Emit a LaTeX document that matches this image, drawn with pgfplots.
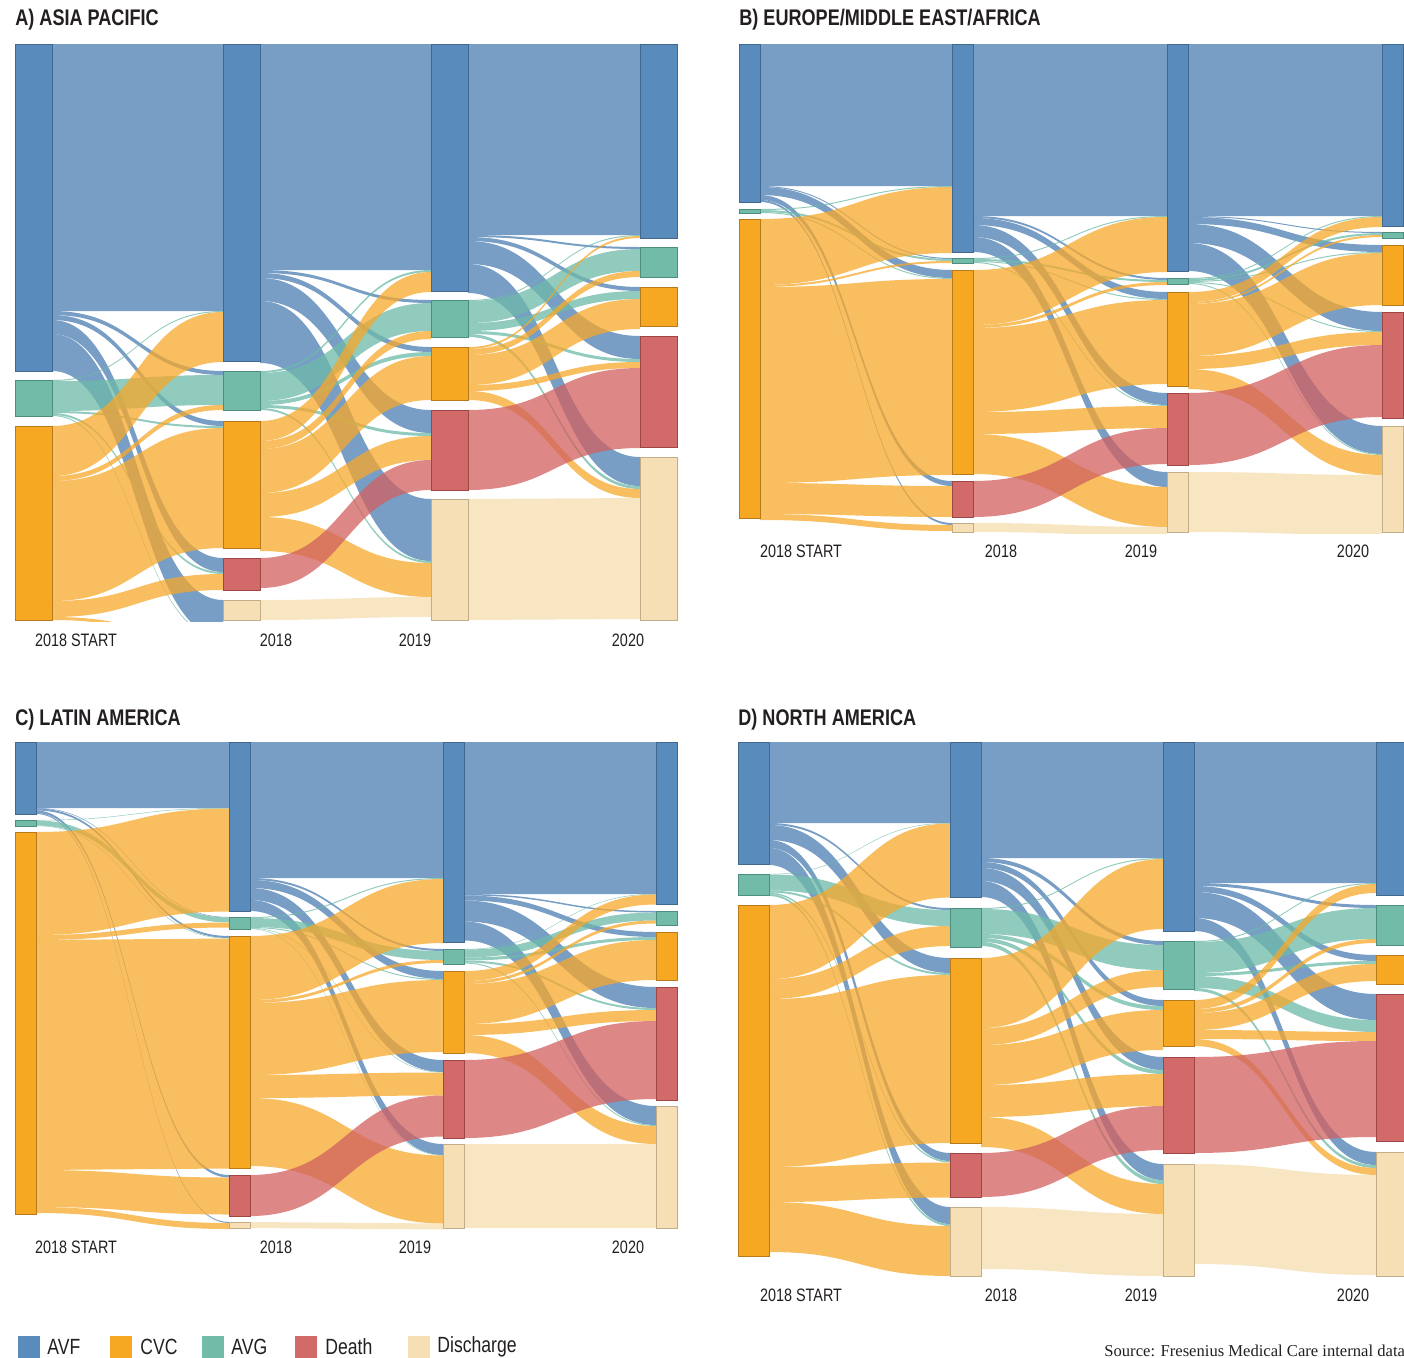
\documentclass[border=0pt]{standalone}
\usepackage{fontspec}
\setmainfont{Liberation Sans}
\newfontfamily\cond{Liberation Sans}[FakeStretch=0.8]
\newfontfamily\srcfont{Liberation Serif}
\usepackage{pgfplots}
\pgfplotsset{compat=1.18}

% node, border and flow colours
\definecolor{avfN}{HTML}{5A8BBD}\definecolor{avfD}{HTML}{41698F}\definecolor{avfF}{HTML}{5A89BA}
\definecolor{cvcN}{HTML}{F7A823}\definecolor{cvcD}{HTML}{B77B1C}\definecolor{cvcF}{HTML}{F7A82B}
\definecolor{avgN}{HTML}{72BBA9}\definecolor{avgD}{HTML}{4E8E7F}\definecolor{avgF}{HTML}{6CB9A7}
\definecolor{deaN}{HTML}{D26A69}\definecolor{deaD}{HTML}{9E4646}\definecolor{deaF}{HTML}{D1605F}
\definecolor{disN}{HTML}{F6DEB5}\definecolor{disD}{HTML}{C2AD8A}\definecolor{disF}{HTML}{F5DCAE}
\definecolor{ink}{HTML}{231F20}
% flow opacity per source
\def\opavf{0.82}\def\opcvc{0.75}\def\opavg{0.75}\def\opdea{0.75}\def\opdis{0.75}

% one axis per panel, 1 px of the reference = 0.5pt
\pgfplotsset{panel/.style n args={4}{hide axis, clip=true, x=0.5pt, y=0.5pt, y dir=reverse,
  xmin=#1, xmax=#2, ymin=#3, ymax=#4, anchor=north west, at={({#1*0.5pt},{-#3*0.5pt})}}}

% column left edges and node width
\newcommand\setcols[5]{%
  \expandafter\gdef\csname cx0\endcsname{#1}\expandafter\gdef\csname cx1\endcsname{#2}%
  \expandafter\gdef\csname cx2\endcsname{#3}\expandafter\gdef\csname cx3\endcsname{#4}%
  \gdef\nw{#5}\gdef\nodelist{}}

% \setnode{col}{name}{top}{height}
\newcommand\setnode[4]{%
  \pgfmathsetmacro\nbot{#3+#4}%
  \pgfmathsetmacro\nxa{\csname cx#1\endcsname}%
  \pgfmathsetmacro\nxb{\nxa+\nw}%
  \expandafter\xdef\csname no#1#2\endcsname{#3}%
  \expandafter\xdef\csname ni#1#2\endcsname{#3}%
  \xdef\nodelist{\unexpanded\expandafter{\nodelist}\noexpand\addplot[draw=#2D, fill=#2N, line width=0.5pt]
    coordinates {(\nxa,#3) (\nxb,#3) (\nxb,\nbot) (\nxa,\nbot)} -- cycle;}}

% \flow{col}{source}{target}{value}
\newcommand\flow[4]{%
  \ifdim#4pt>0pt
  \edef\tc{\the\numexpr#1+1\relax}%
  \pgfmathsetmacro\fxa{\csname cx#1\endcsname+\nw}%
  \pgfmathsetmacro\fxb{\csname cx\tc\endcsname}%
  \pgfmathsetmacro\fxm{(\fxa+\fxb)/2}%
  \edef\fsa{\csname no#1#2\endcsname}%
  \pgfmathsetmacro\fsb{\fsa+#4}%
  \expandafter\xdef\csname no#1#2\endcsname{\fsb}%
  \edef\fta{\csname ni\tc#3\endcsname}%
  \pgfmathsetmacro\ftb{\fta+#4}%
  \expandafter\xdef\csname ni\tc#3\endcsname{\ftb}%
  \edef\tmp{\noexpand\fill[#2F, fill opacity=\csname op#2\endcsname] (axis cs:\fxa,\fsa) .. controls (axis cs:\fxm,\fsa) and (axis cs:\fxm,\fta) .. (axis cs:\fxb,\fta)
    -- (axis cs:\fxb,\ftb) .. controls (axis cs:\fxm,\ftb) and (axis cs:\fxm,\fsb) .. (axis cs:\fxa,\fsb) -- cycle;}%
  \tmp
  \fi}

% \flowrow{col}{source}{to AVF}{to AVG}{to CVC}{to Death}{to Discharge}
\newcommand\flowrow[7]{\flow{#1}{#2}{avf}{#3}\flow{#1}{#2}{avg}{#4}\flow{#1}{#2}{cvc}{#5}%
  \flow{#1}{#2}{dea}{#6}\flow{#1}{#2}{dis}{#7}}

\begin{document}
\begin{tikzpicture}
\path[use as bounding box] (0,0) rectangle (702pt,-679pt);

% ---------------- A) Asia Pacific
\begin{axis}[panel={14}{678}{43}{621}]
\setcols{15}{223}{431}{640}{37}
\setnode{0}{avf}{44}{327}\setnode{0}{avg}{380}{36}\setnode{0}{cvc}{426}{194}
\setnode{1}{avf}{44}{317}\setnode{1}{avg}{371}{39}\setnode{1}{cvc}{421}{127}\setnode{1}{dea}{558}{32}\setnode{1}{dis}{600}{20}
\setnode{2}{avf}{44}{247}\setnode{2}{avg}{300}{37}\setnode{2}{cvc}{347}{53}\setnode{2}{dea}{410}{80}\setnode{2}{dis}{499}{121}
\setnode{3}{avf}{44}{194}\setnode{3}{avg}{247}{30}\setnode{3}{cvc}{287}{39}\setnode{3}{dea}{336}{111}\setnode{3}{dis}{457}{163}
\flowrow{0}{avf}{267}{4}{5}{14}{37}
\flowrow{0}{avg}{1}{30}{2}{2}{1}
\flowrow{0}{cvc}{50}{5}{120}{16}{3}
\flowrow{1}{avf}{226}{3}{5}{23}{62}
\flowrow{1}{avg}{2}{28}{4}{3}{2}
\flowrow{1}{cvc}{20}{8}{44}{24}{34}
\flow{1}{dea}{dea}{30}\flow{1}{dis}{dis}{20}
\flowrow{2}{avf}{191}{2}{4}{23}{29}
\flowrow{2}{avg}{1}{22}{8}{3}{3}
\flowrow{2}{cvc}{2}{6}{30}{6}{9}
\flow{2}{dea}{dea}{80}\flow{2}{dis}{dis}{121}
\nodelist
\end{axis}

% ---------------- B) Europe/Middle East/Africa
\begin{axis}[panel={738}{1404}{43}{533}]
\setcols{739}{952}{1167}{1382}{21}
\setnode{0}{avf}{44}{158}\setnode{0}{avg}{209}{4}\setnode{0}{cvc}{219}{299}
\setnode{1}{avf}{44}{208}\setnode{1}{avg}{258}{5}\setnode{1}{cvc}{270}{204}\setnode{1}{dea}{481}{36}\setnode{1}{dis}{523}{9}
\setnode{2}{avf}{44}{227}\setnode{2}{avg}{278}{6}\setnode{2}{cvc}{292}{94}\setnode{2}{dea}{393}{72}\setnode{2}{dis}{472}{60}
\setnode{3}{avf}{44}{182}\setnode{3}{avg}{232}{6}\setnode{3}{cvc}{245}{60}\setnode{3}{dea}{312}{106}\setnode{3}{dis}{426}{106}
\flowrow{0}{avf}{142}{1}{8}{5}{2}
\flowrow{0}{avg}{1}{2}{1}{0}{0}
\flowrow{0}{cvc}{66}{2}{196}{31}{6}
\flowrow{1}{avf}{172}{2}{7}{12}{15}
\flowrow{1}{avg}{1}{2}{1}{1}{0}
\flowrow{1}{cvc}{55}{3}{84}{22}{40}
\flow{1}{dea}{dea}{36}\flow{1}{dis}{dis}{9}
\flowrow{2}{avf}{172}{1}{7}{19}{28}
\flowrow{2}{avg}{1}{2}{1}{1}{1}
\flowrow{2}{cvc}{10}{2}{52}{13}{20}
\flow{2}{dea}{dea}{72}\flow{2}{dis}{dis}{60}
\nodelist
\end{axis}

% ---------------- C) Latin America
\begin{axis}[panel={14}{678}{741}{1229}]
\setcols{15}{229}{443}{656}{21}
\setnode{0}{avf}{742}{72}\setnode{0}{avg}{820}{6}\setnode{0}{cvc}{832}{382}
\setnode{1}{avf}{742}{169}\setnode{1}{avg}{917}{12}\setnode{1}{cvc}{936}{232}\setnode{1}{dea}{1175}{41}\setnode{1}{dis}{1222}{6}
\setnode{2}{avf}{742}{200}\setnode{2}{avg}{949}{15}\setnode{2}{cvc}{971}{82}\setnode{2}{dea}{1060}{78}\setnode{2}{dis}{1144}{84}
\setnode{3}{avf}{742}{162}\setnode{3}{avg}{911}{14}\setnode{3}{cvc}{932}{48}\setnode{3}{dea}{987}{113}\setnode{3}{dis}{1106}{122}
\flowrow{0}{avf}{66}{0.5}{2}{2.5}{1}
\flowrow{0}{avg}{0.5}{5}{0.5}{0}{0}
\flowrow{0}{cvc}{103}{5}{230}{37}{6}
\flowrow{1}{avf}{136}{2}{8}{12}{11}
\flowrow{1}{avg}{1}{9}{1}{0.5}{0.5}
\flowrow{1}{cvc}{64}{3}{72}{23}{68}
\flow{1}{dea}{dea}{41}\flow{1}{dis}{dis}{6}
\flowrow{2}{avf}{152}{1.5}{5}{21}{19}
\flowrow{2}{avg}{0.5}{8}{3}{2}{1}
\flowrow{2}{cvc}{10}{3}{40}{11}{18}
\flow{2}{dea}{dea}{78}\flow{2}{dis}{dis}{84}
\nodelist
\end{axis}

% ---------------- D) North America
\begin{axis}[panel={737}{1404}{741}{1277}]
\setcols{738}{950}{1163}{1376}{31}
\setnode{0}{avf}{742}{122}\setnode{0}{avg}{874}{21}\setnode{0}{cvc}{905}{351}
\setnode{1}{avf}{742}{155}\setnode{1}{avg}{908}{39}\setnode{1}{cvc}{958}{185}\setnode{1}{dea}{1153}{44}\setnode{1}{dis}{1207}{69}
\setnode{2}{avf}{742}{189}\setnode{2}{avg}{941}{48}\setnode{2}{cvc}{1000}{46}\setnode{2}{dea}{1057}{96}\setnode{2}{dis}{1164}{112}
\setnode{3}{avf}{742}{153}\setnode{3}{avg}{905}{40}\setnode{3}{cvc}{955}{29}\setnode{3}{dea}{994}{147}\setnode{3}{dis}{1152}{124}
\flowrow{0}{avf}{81}{2}{15}{8}{17}
\flowrow{0}{avg}{0.5}{16}{2}{1.5}{2}
\flowrow{0}{cvc}{74}{20}{168}{35}{50}
\flowrow{1}{avf}{116}{4}{6}{13}{16}
\flowrow{1}{avg}{1}{25}{4}{4}{4}
\flowrow{1}{cvc}{70}{17}{40}{32}{30}
\flow{1}{dea}{dea}{44}\flow{1}{dis}{dis}{62}
\flowrow{2}{avf}{141}{3}{6}{26}{13}
\flowrow{2}{avg}{1}{31}{3}{12}{3}
\flowrow{2}{cvc}{9}{4}{17}{9}{7}
\flow{2}{dea}{dea}{96}\flow{2}{dis}{dis}{100}
\nodelist
\end{axis}

% ---------------- titles, column labels, legend, source
\begin{scope}[x=0.5pt, y=-0.5pt, every node/.style={inner sep=0pt, text=ink}]
\tikzset{ttl/.style={anchor=west, font=\cond\bfseries\fontsize{11.3}{13}\selectfont},
  yr/.style={font=\cond\fontsize{9}{11}\selectfont},
  lg/.style={anchor=west, font=\cond\fontsize{11}{13}\selectfont}}
\node[ttl] at (15,20) {A) ASIA PACIFIC};
\node[ttl] at (739,20) {B) EUROPE/MIDDLE EAST/AFRICA};
\node[ttl] at (15,720) {C) LATIN AMERICA};
\node[ttl] at (738,720) {D) NORTH AMERICA};
\foreach \yy/\xa/\xb/\xc/\xd in {640/76/276/415/628, 551/801/1001/1141/1353, 1247/76/276/415/628, 1295/801/1001/1141/1353}{
  \node[yr] at (\xa,\yy) {2018 START};
  \node[yr] at (\xb,\yy) {2018};
  \node[yr] at (\xc,\yy) {2019};
  \node[yr] at (\xd,\yy) {2020};
}
\foreach \xa/\xt/\cc/\tt in {18/47/avfN/AVF, 110/140/cvcN/CVC, 202/231/avgN/AVG, 295/325/deaN/Death, 408/437/disN/Discharge}{
  \fill[\cc] (\xa,1336) rectangle (\xa+22,1358);
  \node[lg] at (\xt,1347) {\tt};
}
\node[anchor=west, font=\srcfont\fontsize{8.3}{10}\selectfont] at (1104,1351) {Source: Fresenius Medical Care internal data};
\end{scope}
\end{tikzpicture}
\end{document}
